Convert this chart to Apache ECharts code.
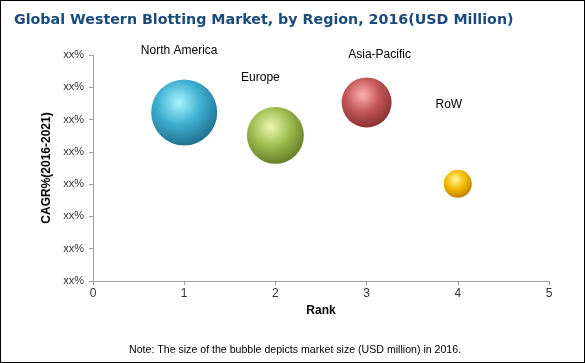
<!DOCTYPE html>
<html><head><meta charset="utf-8">
<script src="https://cdn.jsdelivr.net/npm/echarts@6/dist/echarts.min.js"></script>
<style>
html,body{margin:0;padding:0;background:#fff;}
#c{width:585px;height:363px;box-sizing:border-box;border:1px solid #000;}
</style></head>
<body><div id="c"></div>
<script>
const regions = ['North America', 'Europe', 'Asia-Pacific', 'RoW'];
const ranks = [1, 2, 3, 4];
const cagr = [5.22, 4.51, 5.53, 3.01];
const marketSize = [1090, 810, 625, 196];
const yTickLabel = 'xx%';

const palettes = [
  ['#a8f4ff', '#3eaed0', '#1b6080'],
  ['#eef8b0', '#9fbc50', '#56701c'],
  ['#ffb0b0', '#c45858', '#7a2626'],
  ['#fff6a0', '#f4bc00', '#b07000']
];
const labelOffsets = [[-5, -18], [-15, -18], [13, -12], [-9, -54]];

function grad(p) {
  return new echarts.graphic.RadialGradient(0.42, 0.35, 0.75, [
    {offset: 0, color: p[0]},
    {offset: 0.45, color: p[1]},
    {offset: 1, color: p[2]}
  ]);
}

const chart = echarts.init(document.getElementById('c'), null, {renderer: 'canvas'});
const series = regions.map((name, i) => ({
  name: name,
  type: 'scatter',
  data: [[ranks[i], cagr[i], marketSize[i]]],
  symbolSize: d => Math.sqrt(d[2]) * 2,
  itemStyle: {color: grad(palettes[i]), opacity: 1},
  label: {
    show: true, position: 'top', formatter: name,
    offset: labelOffsets[i],
    color: '#000', fontFamily: 'Arial, Liberation Sans', fontSize: 12
  },
  emphasis: {disabled: true}
}));

chart.setOption({
  animation: false,
  title: {
    text: 'Global Western Blotting Market, by Region, 2016(USD Million)',
    left: 8, top: 7,
    textStyle: {color: '#1b4b7c', fontFamily: 'DejaVu Sans', fontWeight: 'bold', fontSize: 14.25}
  },
  grid: {left: 92, right: 35, top: 54, bottom: 81},
  xAxis: {
    type: 'value', min: 0, max: 5, interval: 1,
    name: 'Rank', nameLocation: 'middle', nameGap: 24,
    nameTextStyle: {color: '#000', fontWeight: 'bold', fontFamily: 'Arial, Liberation Sans', fontSize: 12},
    axisLine: {show: true, lineStyle: {color: '#a0a0a0'}},
    axisTick: {show: true, length: 4, lineStyle: {color: '#a0a0a0'}},
    axisLabel: {color: '#333', fontFamily: 'Arial, Liberation Sans', fontSize: 12, margin: 7},
    splitLine: {show: false}
  },
  yAxis: {
    type: 'value', min: 0, max: 7, interval: 1,
    name: 'CAGR%(2016-2021)', nameLocation: 'middle', nameGap: 40,
    nameTextStyle: {color: '#000', fontWeight: 'bold', fontFamily: 'Arial, Liberation Sans', fontSize: 12},
    axisLine: {show: true, lineStyle: {color: '#a0a0a0'}},
    axisTick: {show: true, length: 4, lineStyle: {color: '#a0a0a0'}},
    axisLabel: {color: '#333', fontFamily: 'Arial, Liberation Sans', fontSize: 11, margin: 9, formatter: () => yTickLabel},
    splitLine: {show: false}
  },
  graphic: [{
    type: 'text', left: 128, top: 344,
    style: {text: 'Note: The size of the bubble depicts market size (USD million) in 2016.',
      fill: '#000', font: '10.6px Arial, Liberation Sans'}
  }],
  series: series
});
</script></body></html>
